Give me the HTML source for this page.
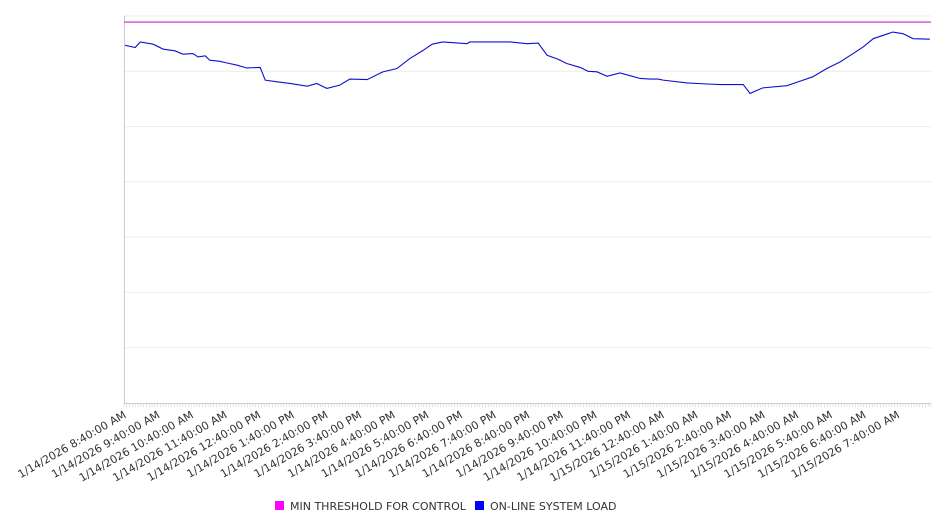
<!DOCTYPE html>
<html><head><meta charset="utf-8"><style>
html,body{margin:0;padding:0;background:#fff;width:946px;height:526px;overflow:hidden}
svg{display:block;font-family:"DejaVu Sans","Liberation Sans",sans-serif}
</style></head><body>
<svg id="chart" width="946" height="526">
<g id="grid"></g>
<g id="xaxis"></g>
<g id="series"></g>
<g>
<g><rect x="275" y="501" width="9" height="9" fill="#ff00ff"/><text x="290" y="510" font-size="11" fill="#333">MIN THRESHOLD FOR CONTROL</text></g>
<g><rect x="475" y="501" width="9" height="9" fill="#0000ff"/><text x="490" y="510" font-size="11" fill="#333">ON-LINE SYSTEM LOAD</text></g>
</g>
</svg>
<script>
const tickLabels=["1/14/2026 8:40:00 AM","1/14/2026 9:40:00 AM","1/14/2026 10:40:00 AM","1/14/2026 11:40:00 AM","1/14/2026 12:40:00 PM","1/14/2026 1:40:00 PM","1/14/2026 2:40:00 PM","1/14/2026 3:40:00 PM","1/14/2026 4:40:00 PM","1/14/2026 5:40:00 PM","1/14/2026 6:40:00 PM","1/14/2026 7:40:00 PM","1/14/2026 8:40:00 PM","1/14/2026 9:40:00 PM","1/14/2026 10:40:00 PM","1/14/2026 11:40:00 PM","1/15/2026 12:40:00 AM","1/15/2026 1:40:00 AM","1/15/2026 2:40:00 AM","1/15/2026 3:40:00 AM","1/15/2026 4:40:00 AM","1/15/2026 5:40:00 AM","1/15/2026 6:40:00 AM","1/15/2026 7:40:00 AM"];
const loadMinutes=[2,20,29,52,70,91,105,123,132,145,153,171,184,202,219,243,252,273,296,327,344,362,385,403,434,462,487,510,534,550,569,612,617,658,689,719,739,755,774,790,814,828,844,862,885,903,921,939,953,962,1005,1040,1064,1105,1117,1140,1183,1206,1229,1254,1278,1301,1319,1337,1372,1390,1408,1438];
const loadValues=[6.47,6.43,6.53,6.49,6.40,6.37,6.31,6.32,6.26,6.28,6.20,6.18,6.15,6.11,6.06,6.07,5.84,5.81,5.78,5.73,5.78,5.69,5.75,5.86,5.85,5.99,6.05,6.23,6.38,6.49,6.53,6.50,6.53,6.53,6.53,6.50,6.51,6.29,6.22,6.14,6.07,6.00,5.99,5.91,5.97,5.92,5.87,5.86,5.86,5.84,5.79,5.77,5.76,5.76,5.60,5.70,5.74,5.82,5.90,6.05,6.17,6.32,6.44,6.59,6.71,6.68,6.59,6.58];
const thresholdValue=6.89;
const yMax=7, xMax=1440;
const L=124,R=931,T=16,B=403;
const xs=m=>L+m/xMax*(R-L);
const ys=v=>B-v/yMax*(B-T);
const NS="http://www.w3.org/2000/svg";
function mk(tag,parent,attrs){const e=document.createElementNS(NS,tag);for(const k in attrs)e.setAttribute(k,attrs[k]);parent.appendChild(e);return e;}
const grid=document.getElementById('grid');
for(let v=1;v<=yMax;v++){const l=mk('line',grid,{x1:L,x2:R,y1:ys(v),y2:ys(v),stroke:'#ebebeb','stroke-width':1});

}
const ax=document.getElementById('xaxis');
const yl=mk('line',ax,{x1:L+0.5,x2:L+0.5,y1:T,y2:B,stroke:'#ccc'});


const bl=mk('line',ax,{x1:L,x2:R,y1:B+0.5,y2:B+0.5,stroke:'#ccc'});


for(let m=0;m<=xMax;m+=5){mk('line',ax,{x1:xs(m),x2:xs(m),y1:B,y2:B+4,stroke:'#ccc','stroke-width':0.6});}
tickLabels.forEach((t,i)=>{const x=xs(i*60)+3;const y=417;const tx=mk('text',ax,{x:x,y:y,'font-size':11,fill:'#333','text-anchor':'end',transform:`rotate(-30 ${x} ${y})`});tx.textContent=t;

});
const s=document.getElementById('series');
const th=mk('line',s,{x1:L,x2:R,y1:ys(thresholdValue),y2:ys(thresholdValue),stroke:'#cc22cc','stroke-width':1.2});


const p=mk('polyline',s,{points:loadMinutes.map((m,i)=>xs(m)+','+ys(loadValues[i])).join(' '),fill:'none',stroke:'#1010cc','stroke-width':1.1});


</script>
</body></html>
